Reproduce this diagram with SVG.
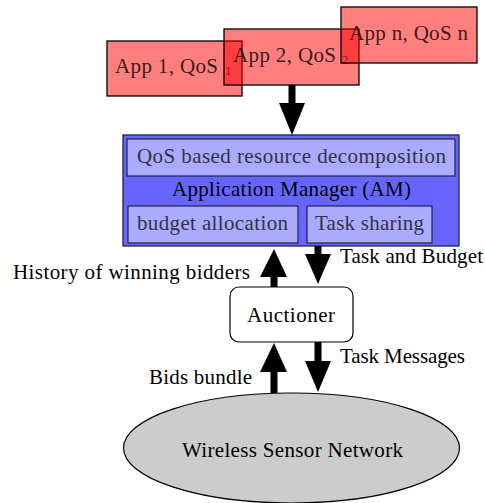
<svg xmlns="http://www.w3.org/2000/svg" width="485" height="503" viewBox="0 0 485 503">
<style>
text{font-family:"Liberation Serif","Times New Roman",serif;font-size:21px;fill:#000}
.app rect{fill:#ff0000;fill-opacity:0.5;stroke:#000;stroke-width:1.3}
.app text{fill:#000;fill-opacity:0.8}
.sub{font-size:13px;fill:#000;fill-opacity:0.5}
.inner{fill:#aaaaff;stroke:#222244;stroke-width:1.2}
.itext{fill:#333344}
.shaft{stroke:#000;stroke-width:7}
.head{fill:#000}
</style>
<g id="app1" class="app"><rect x="107" y="41" width="135" height="55"/><text x="115" y="73" textLength="103">App 1, QoS</text><text class="sub" x="225" y="75">1</text></g>
<g id="app2" class="app"><rect x="224" y="29" width="135" height="56"/><text x="233" y="62" textLength="103">App 2, QoS</text><text class="sub" x="342" y="64">2</text></g>
<g id="appn" class="app"><rect x="341" y="7" width="136" height="56"/><text x="349" y="40" textLength="119">App n, QoS n</text></g>
<g id="am">
<rect x="123" y="135" width="336" height="111" fill="#6666ff" stroke="#222244" stroke-width="1.3"/>
<rect class="inner" x="127" y="139" width="328" height="37"/>
<text class="itext" x="137" y="163" textLength="309">QoS based resource decomposition</text>
<text x="172" y="196" textLength="239">Application Manager (AM)</text>
<rect class="inner" x="128" y="206" width="170" height="37"/>
<text class="itext" x="137" y="230" textLength="151">budget allocation</text>
<rect class="inner" x="307" y="206" width="125" height="37"/>
<text class="itext" x="315" y="230" textLength="109">Task sharing</text>
</g>
<g id="auctioner">
<rect x="230" y="287" width="123" height="55" rx="9" fill="#fff" stroke="#000" stroke-width="1.2"/>
<text x="247" y="322" textLength="88">Auctioner</text>
</g>
<g id="wsn">
<ellipse cx="291.5" cy="448" rx="168" ry="55" fill="#cccccc" stroke="#000" stroke-width="1.2"/>
<text x="182" y="457" textLength="221" fill="#333">Wireless Sensor Network</text>
</g>
<g id="connectors">
<line class="shaft" x1="292" y1="85" x2="292" y2="106"/><polygon class="head" points="279,103 305,103 292,135"/>
<line class="shaft" x1="274" y1="287" x2="274" y2="272"/><polygon class="head" points="260,277 287,277 274,249"/>
<line class="shaft" x1="318" y1="246" x2="318" y2="258"/><polygon class="head" points="305,254 331,254 318,284"/>
<line class="shaft" x1="274" y1="393" x2="274" y2="368"/><polygon class="head" points="260,372 287,372 274,343"/>
<line class="shaft" x1="318" y1="342" x2="318" y2="365"/><polygon class="head" points="305,361 331,361 318,392"/>
<text x="13" y="279" textLength="237">History of winning bidders</text>
<text x="340" y="263" textLength="143">Task and Budget</text>
<text x="340" y="363" textLength="125">Task Messages</text>
<text x="149" y="384" textLength="103">Bids bundle</text>
</g>
</svg>
